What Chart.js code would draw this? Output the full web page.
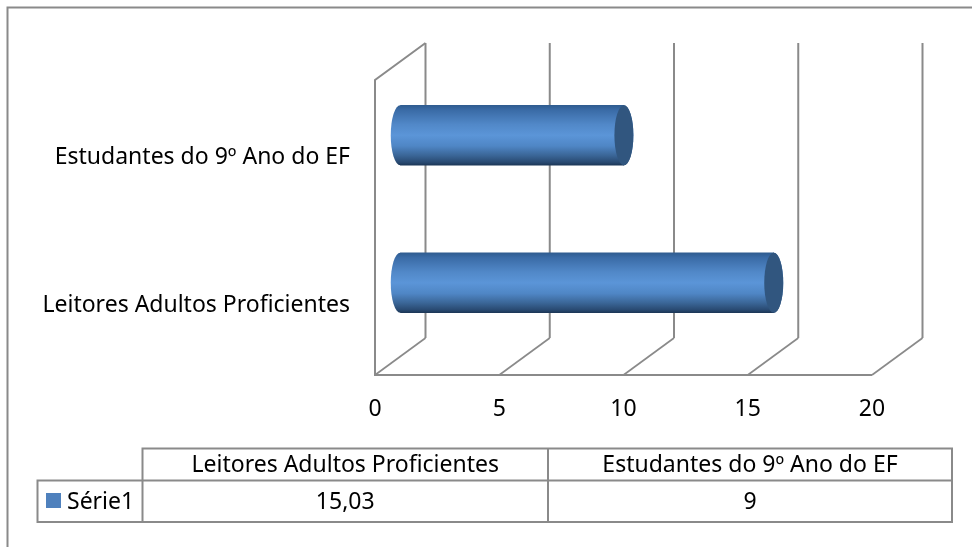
<!DOCTYPE html>
<html><head><meta charset="utf-8">
<script src="https://cdn.jsdelivr.net/npm/chart.js@4"></script>
<style>html,body{margin:0;padding:0;background:#fff}canvas{display:block}</style>
</head><body><canvas id="c" width="972" height="547"></canvas>
<script>
const categories = ['Leitores Adultos Proficientes', 'Estudantes do 9º Ano do EF'];
const seriesName = 'Série1';
const seriesValues = [15.03, 9];
const xTicks = [0, 5, 10, 15, 20];

const FONT = '"Noto Sans"';
const SIZE = 23;
const GRID = '#8a8a8a';
const DEPTH = {x: 50.5, y: -37};
const BAR_T = 60;
const capRx = 9.5;

function barGradient(c, yc) {
  const g = c.createLinearGradient(0, yc - BAR_T/2, 0, yc + BAR_T/2);
  g.addColorStop(0, '#2f5c90');
  g.addColorStop(0.08, '#3a6ba6');
  g.addColorStop(0.32, '#5188c8');
  g.addColorStop(0.5, '#5b95d8');
  g.addColorStop(0.68, '#4f86c5');
  g.addColorStop(0.84, '#3a6596');
  g.addColorStop(0.95, '#294a72');
  g.addColorStop(1, '#1c3757');
  return g;
}

const wallPlugin = {
  id: 'wall',
  beforeDatasetsDraw(chart) {
    const {ctx, scales:{x}, chartArea:a} = chart;
    ctx.save();
    ctx.strokeStyle = GRID;
    ctx.lineWidth = 1.7;
    // floor diagonals
    xTicks.forEach(v => {
      const px = x.getPixelForValue(v);
      ctx.beginPath();
      ctx.moveTo(px, a.bottom);
      ctx.lineTo(px + DEPTH.x, a.bottom + DEPTH.y);
      ctx.stroke();
    });
    ctx.lineWidth = 2;
    // back wall verticals
    xTicks.forEach(v => {
      const px = x.getPixelForValue(v) + DEPTH.x;
      ctx.beginPath();
      ctx.moveTo(px, a.bottom + DEPTH.y);
      ctx.lineTo(px, a.top + DEPTH.y);
      ctx.stroke();
    });
    // side wall and front floor edge
    ctx.beginPath();
    ctx.moveTo(a.left + DEPTH.x, a.top + DEPTH.y);
    ctx.lineTo(a.left, a.top);
    ctx.lineTo(a.left, a.bottom);
    ctx.lineTo(a.right, a.bottom);
    ctx.stroke();
    ctx.restore();
  },
  beforeDatasetDraw(chart) {
    const ctx = chart.ctx;
    ctx.save();
    ctx.translate(DEPTH.x/2, DEPTH.y/2);
    chart.getDatasetMeta(0).data.forEach(b => {
      const h = b.height;
      // rounded start of the cylinder
      ctx.fillStyle = barGradient(ctx, b.y);
      ctx.beginPath();
      ctx.ellipse(b.base, b.y, capRx, h/2, 0, 0, Math.PI*2);
      ctx.fill();
      // far side of the end cap
      ctx.beginPath();
      ctx.ellipse(b.x, b.y, capRx, h/2, 0, 0, Math.PI*2);
      ctx.fill();
    });
  },
  afterDatasetDraw(chart) {
    const ctx = chart.ctx;
    chart.getDatasetMeta(0).data.forEach(b => {
      ctx.fillStyle = '#31567f';
      ctx.beginPath();
      ctx.ellipse(b.x, b.y, capRx, b.height/2, 0, 0, Math.PI*2);
      ctx.fill();
    });
    ctx.restore();
  },
  afterDraw(chart) {
    const ctx = chart.ctx;
    ctx.save();
    // outer frame
    ctx.strokeStyle = GRID;
    ctx.lineWidth = 2;
    ctx.beginPath();
    ctx.moveTo(7.5, 547);
    ctx.lineTo(7.5, 7.5);
    ctx.lineTo(972, 7.5);
    ctx.stroke();
    // data table
    const L = 37.5, C1 = 142.5, C2 = 548, R = 952, T = 448.5, M = 480.5, B = 522;
    ctx.beginPath();
    ctx.moveTo(C1, M); ctx.lineTo(C1, T); ctx.lineTo(R, T); ctx.lineTo(R, B);
    ctx.lineTo(L, B); ctx.lineTo(L, M); ctx.lineTo(R, M);
    ctx.moveTo(C1, M); ctx.lineTo(C1, B);
    ctx.moveTo(C2, T); ctx.lineTo(C2, B);
    ctx.stroke();
    ctx.fillStyle = '#000';
    ctx.font = SIZE + 'px ' + FONT;
    ctx.textBaseline = 'middle';
    ctx.textAlign = 'center';
    const centers = [(C1 + C2)/2, (C2 + R)/2];
    categories.forEach((t, i) => ctx.fillText(t, centers[i], (T + M)/2 + 1));
    seriesValues.forEach((v, i) => ctx.fillText(String(v).replace('.', ','), centers[i], (M + B)/2 + 1));
    ctx.textAlign = 'left';
    ctx.fillText(seriesName, 67, (M + B)/2 + 1);
    ctx.fillStyle = '#4f81bd';
    ctx.fillRect(46, 493, 15, 15);
    ctx.restore();
  }
};

new Chart(document.getElementById('c'), {
  type: 'bar',
  data: {
    labels: categories,
    datasets: [{
      label: seriesName,
      data: seriesValues,
      barThickness: BAR_T,
      borderWidth: 0,
      backgroundColor(ctx) {
        const y = ctx.chart.scales.y;
        const py = y ? y.getPixelForValue(ctx.dataIndex) : NaN;
        return Number.isFinite(py) ? barGradient(ctx.chart.ctx, py) : '#4f81bd';
      }
    }]
  },
  plugins: [wallPlugin],
  options: {
    indexAxis: 'y',
    responsive: false,
    animation: false,
    devicePixelRatio: 1,
    layout: {padding: {top: 80, right: 100, bottom: 0, left: 0}},
    plugins: {legend: {display: false}, tooltip: {enabled: false}},
    scales: {
      x: {
        min: 0, max: 20,
        afterFit(s) { s.height = 172; },
        afterBuildTicks(s) { s.ticks = xTicks.map(v => ({value: v})); },
        grid: {display: false, drawTicks: false},
        border: {display: false},
        ticks: {color: '#000', font: {family: FONT, size: SIZE}, padding: 21, maxRotation: 0}
      },
      y: {
        reverse: true,
        afterFit(s) { s.width = 375; },
        grid: {display: false, drawTicks: false},
        border: {display: false},
        ticks: {color: '#000', font: {family: FONT, size: SIZE}, padding: 25, labelOffset: 4}
      }
    }
  }
});
</script>
</body></html>
